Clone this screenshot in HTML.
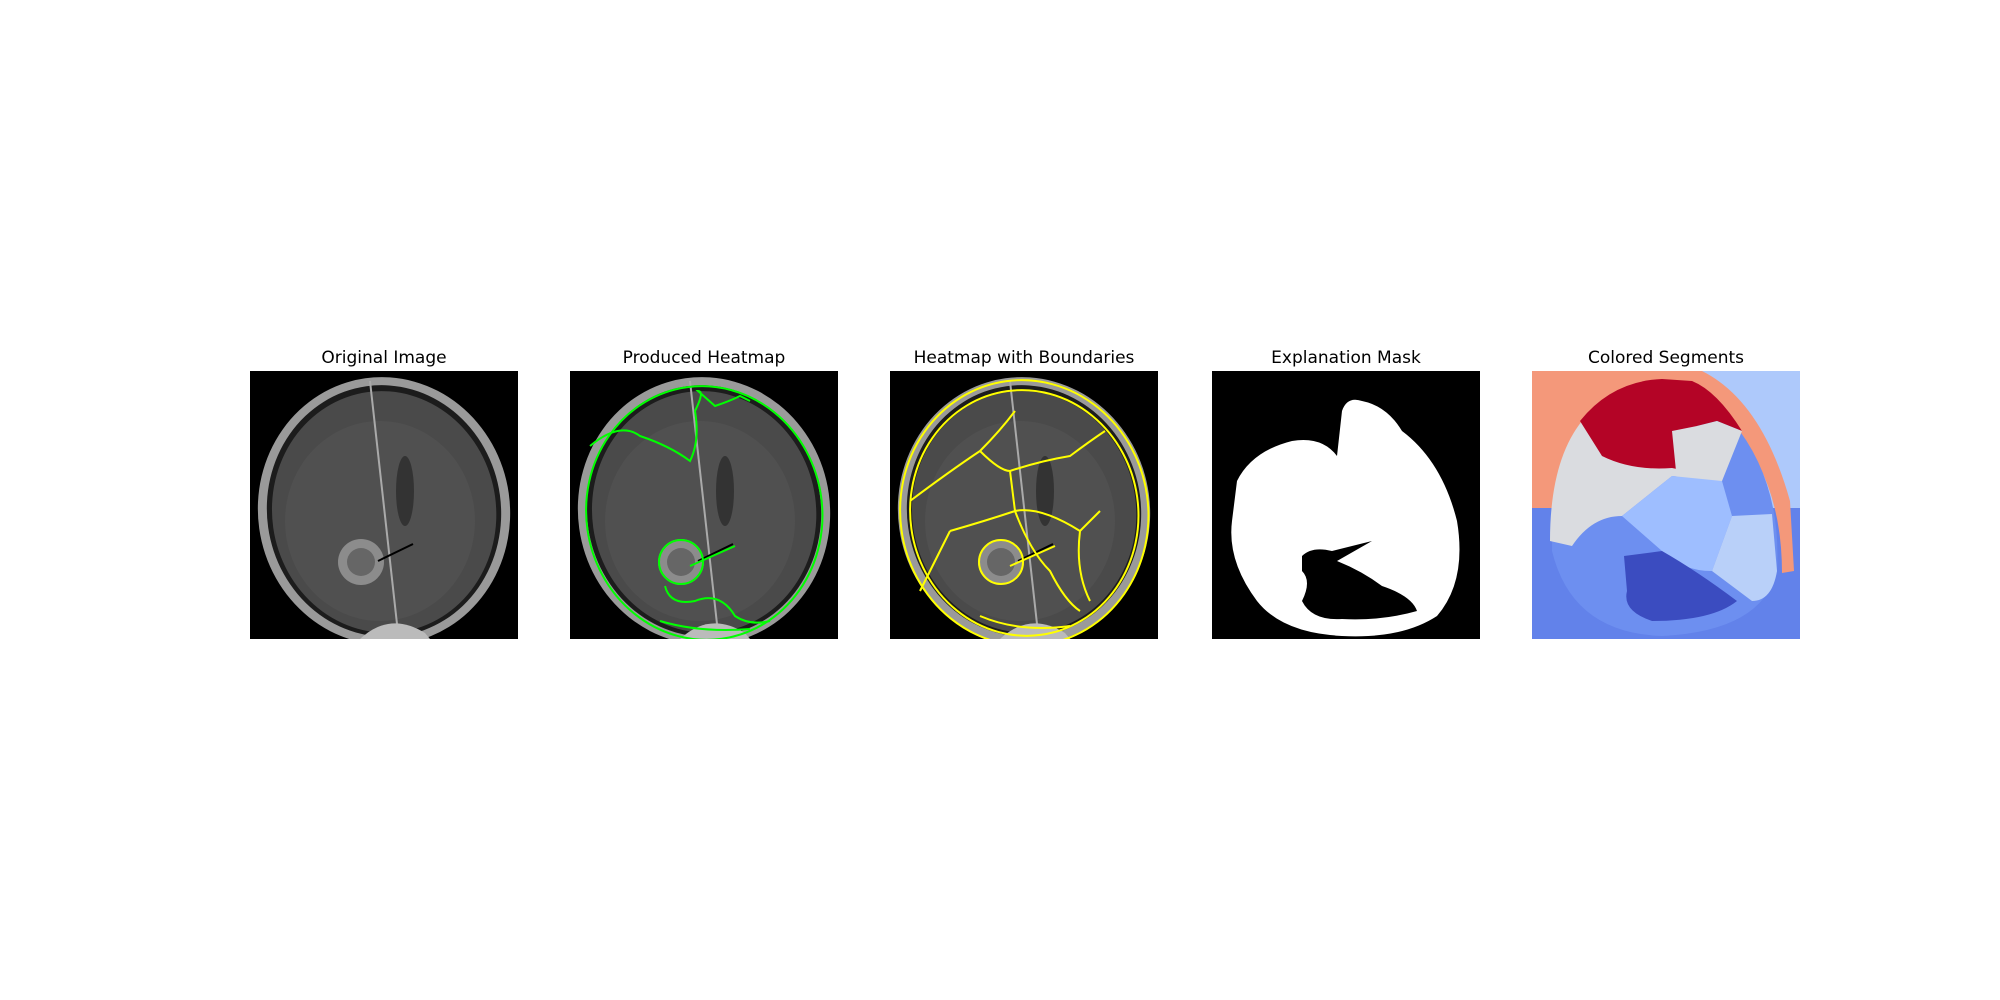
<!DOCTYPE html>
<html><head><meta charset="utf-8"><style>
body{margin:0;background:#fff;width:2000px;height:1000px;position:relative;overflow:hidden;font-family:"Liberation Sans","DejaVu Sans",sans-serif}
.t{position:absolute;top:348px;width:268px;text-align:center;font-size:17px;color:#000;font-family:"DejaVu Sans","Liberation Sans",sans-serif}
svg.p{position:absolute;top:371px;width:268px;height:268px}
</style></head><body>
<svg width="0" height="0" style="position:absolute"><defs>
<g id="brain">
<rect width="268" height="268" fill="#000"/>
<ellipse cx="134" cy="140" rx="126" ry="134" fill="#9a9a9a" transform="rotate(-8 134 140)"/>
<ellipse cx="134" cy="140" rx="117" ry="126" fill="#1c1c1c" transform="rotate(-8 134 140)"/>
<ellipse cx="134" cy="141" rx="112" ry="121" fill="#4a4a4a" transform="rotate(-8 134 140)"/>
<ellipse cx="130" cy="150" rx="95" ry="100" fill="#505050"/>
<line x1="120" y1="10" x2="148" y2="262" stroke="#aaa" stroke-width="2"/>
<ellipse cx="155" cy="120" rx="9" ry="35" fill="#333"/>
<circle cx="111" cy="191" r="23" fill="#8c8c8c"/>
<circle cx="111" cy="191" r="14" fill="#666"/>
<line x1="128" y1="190" x2="163" y2="173" stroke="#000" stroke-width="2"/>
<path d="M110 268 Q140 240 175 262 L180 268Z" fill="#bbb"/>
</g>
</defs></svg>

<div class="t" style="left:250px">Original Image</div>
<svg class="p" style="left:250px" viewBox="0 0 268 268"><use href="#brain"/></svg>

<div class="t" style="left:570px">Produced Heatmap</div>
<svg class="p" style="left:570px" viewBox="0 0 268 268"><use href="#brain"/>
<g fill="none" stroke="#00ff00" stroke-width="2">
<ellipse cx="134" cy="142" rx="118" ry="127" transform="rotate(-8 134 140)"/>
<path d="M20 75 Q50 50 70 65 Q100 75 120 90 Q130 70 125 40 Q135 20 128 20 L145 35 Q160 30 170 25 L180 30"/>
<circle cx="111" cy="191" r="22"/>
<path d="M120 195 L165 175 M95 215 Q100 235 125 230 Q150 220 165 245 Q180 255 200 250 M90 250 Q130 262 180 258"/>
</g></svg>

<div class="t" style="left:890px">Heatmap with Boundaries</div>
<svg class="p" style="left:890px" viewBox="0 0 268 268"><use href="#brain"/>
<g fill="none" stroke="#ffff00" stroke-width="2">
<ellipse cx="134" cy="142" rx="124" ry="133" transform="rotate(-8 134 140)"/>
<ellipse cx="134" cy="142" rx="114" ry="123" transform="rotate(-8 134 140)"/>
<path d="M20 130 Q60 100 90 80 Q110 60 125 40 M90 80 Q110 100 120 100 Q150 90 180 85 Q200 70 215 60 M120 100 L125 140 Q150 135 190 160 L210 140 M125 140 Q95 150 60 160 M60 160 Q40 200 30 220 M190 160 Q185 200 200 230 M125 140 Q140 180 160 200 Q175 230 190 240"/>
<circle cx="111" cy="191" r="22"/>
<path d="M120 195 L165 175 M90 245 Q130 262 180 255"/>
</g></svg>

<div class="t" style="left:1212px">Explanation Mask</div>
<svg class="p" style="left:1212px" viewBox="0 0 268 268">
<rect width="268" height="268" fill="#000"/>
<path d="M25 110 Q40 80 80 70 Q110 65 125 85 L130 40 Q135 25 150 30 Q175 35 190 60 Q230 90 245 150 Q255 210 225 245 Q190 268 130 265 Q70 262 45 230 Q15 190 20 150Z" fill="#fff"/>
<path d="M90 185 Q100 175 120 180 L160 170 L125 190 Q150 200 170 215 Q200 225 205 240 Q170 250 130 248 Q100 250 90 230 Q100 210 90 200Z" fill="#000"/>
</svg>

<div class="t" style="left:1532px">Colored Segments</div>
<svg class="p" style="left:1532px" viewBox="0 0 268 268">
<rect width="268" height="268" fill="#aec9fb"/>
<rect width="170" height="140" fill="#f4987a"/>
<rect y="137" width="268" height="131" fill="#6282ea"/>
<path d="M170 0 Q230 30 258 130 L262 200 L250 202 Q250 110 200 55 Q170 20 120 8Z" fill="#f4987a"/>
<path d="M20 180 Q20 90 60 40 Q120 5 200 50 Q250 110 245 200 Q230 260 130 265 Q40 262 20 180Z" fill="#6d8ff0"/>
<path d="M18 170 Q18 90 50 50 L140 40 L190 110 L140 105 L90 145 Q60 145 40 175Z" fill="#dadce0"/>
<path d="M48 50 Q80 10 130 8 L160 10 Q185 20 210 60 L185 50 L165 55 L155 100 L140 97 Q100 100 70 85Z" fill="#b40426"/>
<path d="M140 60 L165 55 L185 50 L210 60 L190 110 L145 110Z" fill="#dadce0"/>
<path d="M90 145 L140 105 L190 110 L200 145 L180 200 Q150 200 130 180Z" fill="#9ebeff"/>
<path d="M200 145 L240 143 L245 200 Q240 230 220 230 L180 200Z" fill="#b9d0f9"/>
<path d="M92 185 L130 180 Q165 200 205 230 Q180 250 120 250 Q90 240 95 220 Z" fill="#3b4cc0"/>
</svg>
</body></html>
